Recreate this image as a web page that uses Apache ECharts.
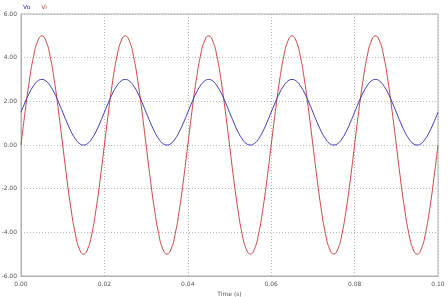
<!DOCTYPE html>
<html><head><meta charset="utf-8">
<script src="https://cdn.jsdelivr.net/npm/echarts@6/dist/echarts.min.js"></script>
<style>html,body{margin:0;padding:0;background:#fff}#c{width:448px;height:297px}</style>
</head><body><div id="c"></div>
<script>
var time = [0,0.001,0.002,0.003,0.004,0.005,0.006,0.007,0.008,0.009,
0.010,0.011,0.012,0.013,0.014,0.015,0.016,0.017,0.018,0.019,
0.020,0.021,0.022,0.023,0.024,0.025,0.026,0.027,0.028,0.029,
0.030,0.031,0.032,0.033,0.034,0.035,0.036,0.037,0.038,0.039,
0.040,0.041,0.042,0.043,0.044,0.045,0.046,0.047,0.048,0.049,
0.050,0.051,0.052,0.053,0.054,0.055,0.056,0.057,0.058,0.059,
0.060,0.061,0.062,0.063,0.064,0.065,0.066,0.067,0.068,0.069,
0.070,0.071,0.072,0.073,0.074,0.075,0.076,0.077,0.078,0.079,
0.080,0.081,0.082,0.083,0.084,0.085,0.086,0.087,0.088,0.089,
0.090,0.091,0.092,0.093,0.094,0.095,0.096,0.097,0.098,0.099,0.100];
var vi = [0,1.55,2.94,4.05,4.76,5,4.76,4.05,2.94,1.55,0,-1.55,-2.94,-4.05,-4.76,-5,-4.76,-4.05,-2.94,-1.55,
0,1.55,2.94,4.05,4.76,5,4.76,4.05,2.94,1.55,0,-1.55,-2.94,-4.05,-4.76,-5,-4.76,-4.05,-2.94,-1.55,
0,1.55,2.94,4.05,4.76,5,4.76,4.05,2.94,1.55,0,-1.55,-2.94,-4.05,-4.76,-5,-4.76,-4.05,-2.94,-1.55,
0,1.55,2.94,4.05,4.76,5,4.76,4.05,2.94,1.55,0,-1.55,-2.94,-4.05,-4.76,-5,-4.76,-4.05,-2.94,-1.55,
0,1.55,2.94,4.05,4.76,5,4.76,4.05,2.94,1.55,0,-1.55,-2.94,-4.05,-4.76,-5,-4.76,-4.05,-2.94,-1.55,0];
var vo = [1.5,1.96,2.38,2.71,2.93,3,2.93,2.71,2.38,1.96,1.5,1.04,0.62,0.29,0.07,0,0.07,0.29,0.62,1.04,
1.5,1.96,2.38,2.71,2.93,3,2.93,2.71,2.38,1.96,1.5,1.04,0.62,0.29,0.07,0,0.07,0.29,0.62,1.04,
1.5,1.96,2.38,2.71,2.93,3,2.93,2.71,2.38,1.96,1.5,1.04,0.62,0.29,0.07,0,0.07,0.29,0.62,1.04,
1.5,1.96,2.38,2.71,2.93,3,2.93,2.71,2.38,1.96,1.5,1.04,0.62,0.29,0.07,0,0.07,0.29,0.62,1.04,
1.5,1.96,2.38,2.71,2.93,3,2.93,2.71,2.38,1.96,1.5,1.04,0.62,0.29,0.07,0,0.07,0.29,0.62,1.04,1.5];
var seriesNames = ['Vo','Vi'];
var xTitle = 'Time (s)';

function pairs(xs, ys){ return xs.map(function(x,i){ return [x, ys[i]]; }); }
var BLUE = '#3a3ab8', RED = '#cc4848';
var chart = echarts.init(document.getElementById('c'), null, {renderer:'canvas'});
chart.setOption({
  animation:false,
  backgroundColor:'#fff',
  grid:{left:21,right:10,top:14,bottom:21,containLabel:false,outerBoundsMode:'none',show:true,borderColor:'#b0b0b0',borderWidth:1},
  legend:{left:18,top:4,icon:'none',itemWidth:0,itemHeight:6,itemGap:6,padding:0,
    textStyle:{fontSize:6,fontFamily:'DejaVu Sans'},
    data:[{name:seriesNames[0],textStyle:{color:BLUE}},{name:seriesNames[1],textStyle:{color:RED}}]},
  xAxis:{type:'value',min:0,max:0.1,interval:0.02,
    name:xTitle,nameLocation:'middle',nameGap:14,
    nameTextStyle:{fontSize:6,color:'#555',fontFamily:'DejaVu Sans'},
    axisLine:{onZero:false,lineStyle:{color:'#b0b0b0'}},axisTick:{show:false},
    axisLabel:{fontSize:6,color:'#555',margin:5,fontFamily:'DejaVu Sans',formatter:function(v){return v.toFixed(2);}},
    splitLine:{show:true,lineStyle:{color:'#b8b8b8',type:[1,2]}}},
  yAxis:{type:'value',min:-6,max:6,interval:2,
    axisLine:{show:true,onZero:false,lineStyle:{color:'#b0b0b0'}},axisTick:{show:false},
    axisLabel:{fontSize:6,color:'#555',margin:4,fontFamily:'DejaVu Sans',formatter:function(v){return v.toFixed(2);}},
    splitLine:{show:true,lineStyle:{color:'#b8b8b8',type:[1,2]}}},
  series:[
    {name:seriesNames[0],type:'line',data:pairs(time,vo),smooth:true,showSymbol:false,lineStyle:{color:BLUE,width:1},itemStyle:{color:BLUE},z:3},
    {name:seriesNames[1],type:'line',data:pairs(time,vi),smooth:true,showSymbol:false,lineStyle:{color:RED,width:1},itemStyle:{color:RED},z:2}
  ]
});
</script></body></html>
